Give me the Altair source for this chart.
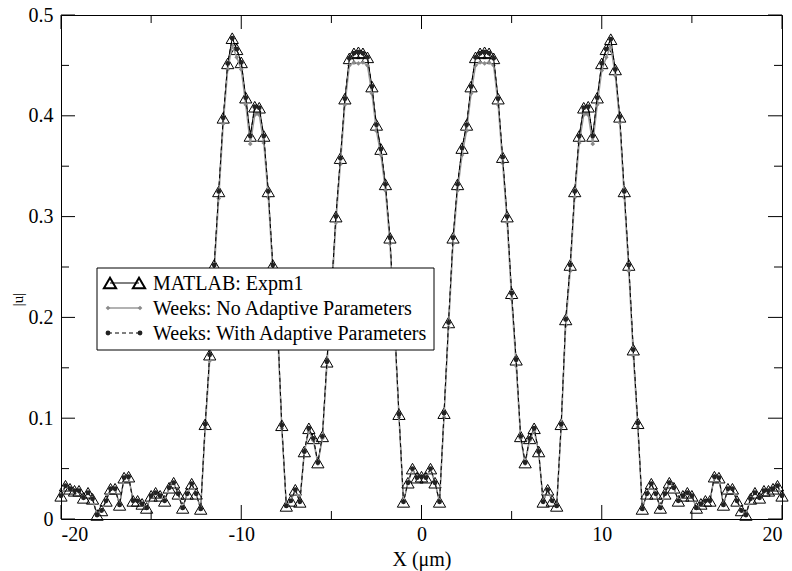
import altair as alt
import pandas as pd

# ---------------- data ----------------
x_values = [i * 0.25 for i in range(-80, 81)]  # sampling grid -20 .. 20, step 0.25

matlab_expm1 = [
    # -20 .. -12.25
    0.023, 0.033, 0.030, 0.028, 0.028, 0.021, 0.026, 0.020,
    0.004, 0.0085, 0.018, 0.030, 0.030, 0.014, 0.041, 0.042,
    0.018, 0.018, 0.015, 0.011, 0.023, 0.026, 0.023, 0.018,
    0.031, 0.036, 0.025, 0.011, 0.025, 0.035, 0.025, 0.010,
    # -12 .. -8.25
    0.094, 0.163, 0.252, 0.325, 0.398, 0.452, 0.477, 0.466,
    0.453, 0.418, 0.380, 0.409, 0.408, 0.380, 0.325, 0.252,
    # -8 .. -5.25
    0.198, 0.093, 0.013, 0.018, 0.029, 0.017, 0.067, 0.090, 0.080, 0.056, 0.082, 0.156,
    # -5 .. -1.25
    0.225, 0.300, 0.358, 0.417, 0.457, 0.462, 0.463, 0.462,
    0.458, 0.429, 0.391, 0.367, 0.332, 0.279, 0.195, 0.104,
    # -1 .. 0
    0.017, 0.036, 0.050, 0.041, 0.042,
    # 0.25 .. 1
    0.041, 0.050, 0.036, 0.017,
    # 1.25 .. 5
    0.105, 0.195, 0.279, 0.332, 0.368, 0.391, 0.429, 0.458,
    0.462, 0.463, 0.462, 0.457, 0.417, 0.359, 0.300, 0.224,
    # 5.25 .. 8
    0.158, 0.082, 0.056, 0.080, 0.090, 0.067, 0.017, 0.029, 0.018, 0.013, 0.094, 0.198,
    # 8.25 .. 12
    0.252, 0.325, 0.380, 0.408, 0.409, 0.380, 0.418, 0.452,
    0.466, 0.476, 0.446, 0.399, 0.325, 0.252, 0.168, 0.095,
    # 12.25 .. 20
    0.010, 0.025, 0.035, 0.025, 0.011, 0.025, 0.036, 0.031,
    0.018, 0.023, 0.026, 0.023, 0.011, 0.015, 0.018, 0.018,
    0.042, 0.041, 0.014, 0.030, 0.030, 0.018, 0.0085, 0.004,
    0.020, 0.026, 0.021, 0.028, 0.028, 0.030, 0.033, 0.023,
]

weeks_no_adaptive = [
    # -20 .. -12.25
    0.023, 0.033, 0.030, 0.028, 0.028, 0.021, 0.026, 0.020,
    0.004, 0.0085, 0.018, 0.030, 0.030, 0.014, 0.041, 0.042,
    0.018, 0.018, 0.015, 0.011, 0.023, 0.026, 0.023, 0.018,
    0.031, 0.036, 0.025, 0.011, 0.025, 0.035, 0.025, 0.010,
    # -12 .. -8.25
    0.090, 0.157, 0.246, 0.318, 0.392, 0.446, 0.470, 0.458,
    0.446, 0.411, 0.372, 0.401, 0.401, 0.373, 0.319, 0.246,
    # -8 .. -5.25
    0.192, 0.090, 0.013, 0.018, 0.029, 0.017, 0.066, 0.088, 0.078, 0.055, 0.080, 0.151,
    # -5 .. -1.25
    0.219, 0.294, 0.352, 0.411, 0.450, 0.453, 0.452, 0.453,
    0.450, 0.422, 0.385, 0.361, 0.326, 0.273, 0.190, 0.101,
    # -1 .. 0
    0.017, 0.036, 0.049, 0.041, 0.042,
    # 0.25 .. 1
    0.041, 0.049, 0.036, 0.017,
    # 1.25 .. 5
    0.101, 0.190, 0.273, 0.326, 0.361, 0.385, 0.422, 0.450,
    0.453, 0.452, 0.453, 0.450, 0.411, 0.353, 0.294, 0.218,
    # 5.25 .. 8
    0.152, 0.080, 0.055, 0.078, 0.088, 0.066, 0.017, 0.029, 0.018, 0.013, 0.091, 0.192,
    # 8.25 .. 12
    0.246, 0.319, 0.373, 0.401, 0.401, 0.372, 0.411, 0.445,
    0.458, 0.469, 0.440, 0.393, 0.319, 0.246, 0.162, 0.091,
    # 12.25 .. 20
    0.010, 0.025, 0.035, 0.025, 0.011, 0.025, 0.036, 0.031,
    0.018, 0.023, 0.026, 0.023, 0.011, 0.015, 0.018, 0.018,
    0.042, 0.041, 0.014, 0.030, 0.030, 0.018, 0.0085, 0.004,
    0.020, 0.026, 0.021, 0.028, 0.028, 0.030, 0.033, 0.023,
]

# the adaptive-parameter run coincides with the MATLAB reference in the picture
weeks_with_adaptive = list(matlab_expm1)

series_names = [
    "MATLAB: Expm1",
    "Weeks: No Adaptive Parameters",
    "Weeks: With Adaptive Parameters",
]

x_major_ticks = [-20, -10, 0, 10, 20]
x_minor_ticks = [-15, -5, 5, 15]
y_major_ticks = [0, 0.1, 0.2, 0.3, 0.4, 0.5]
y_minor_ticks = [0.05, 0.15, 0.25, 0.35, 0.45]

x_title = "X (\u03bcm)"
y_title = "|u|"

# ---------------- chart ----------------
W, H = 721, 504
FONT = "Liberation Serif"
GRAY = "#999999"

df = pd.DataFrame({
    "x": x_values,
    "matlab": matlab_expm1,
    "no_adapt": weeks_no_adaptive,
    "with_adapt": weeks_with_adaptive,
})

xscale = alt.Scale(domain=[-20, 20], nice=False, zero=False)
yscale = alt.Scale(domain=[0, 0.5], nice=False, zero=False)

x_axis = alt.Axis(
    values=x_major_ticks, ticks=False, domain=False, grid=False,
    labelExpr="datum.value < 0 ? '-' + format(-datum.value, 'd') : format(datum.value, 'd')",
    labelFont=FONT, labelFontSize=20, labelColor="black", labelPadding=5,
    title=x_title, titleFont=FONT, titleFontSize=20, titleFontWeight="normal",
    titleColor="black", titlePadding=5,
)
y_axis = alt.Axis(
    values=y_major_ticks, ticks=False, domain=False, grid=False, format=".1~f",
    labelFont=FONT, labelFontSize=20, labelColor="black", labelPadding=8,
    title=y_title, titleFont=FONT, titleFontSize=15, titleFontWeight="normal",
    titleColor="black", titleX=-44, titleY=284, titleAngle=270,
    titleBaseline="middle", titleAlign="center",
)

X = alt.X("x:Q", scale=xscale, axis=x_axis)


def Y(field):
    return alt.Y(f"{field}:Q", scale=yscale, axis=y_axis)


base = alt.Chart(df)

matlab_line = base.mark_line(color="black", strokeWidth=1).encode(x=X, y=Y("matlab"))
matlab_pts = base.mark_point(shape="triangle-up", filled=False, color="black",
                             strokeWidth=1, size=150, opacity=1).encode(x=X, y=Y("matlab"))
no_line = base.mark_line(color=GRAY, strokeWidth=1.5).encode(x=X, y=Y("no_adapt"))
no_pts = base.mark_point(shape="diamond", filled=True, color="#8a8a8a",
                         size=22, opacity=1).encode(x=X, y=Y("no_adapt"))
with_line = base.mark_line(color="black", strokeWidth=1, strokeDash=[4, 3]).encode(
    x=X, y=Y("with_adapt"))
with_pts = base.mark_point(shape="circle", filled=True, color="#222222",
                           size=24, opacity=1).encode(x=X, y=Y("with_adapt"))

# inward ticks on all four sides
xmaj = alt.Chart(pd.DataFrame({"t": x_major_ticks}))
xmin = alt.Chart(pd.DataFrame({"t": x_minor_ticks}))
ymaj = alt.Chart(pd.DataFrame({"t": y_major_ticks}))
ymin = alt.Chart(pd.DataFrame({"t": y_minor_ticks}))
TX = alt.X("t:Q", scale=xscale, axis=x_axis)
TY = alt.Y("t:Q", scale=yscale, axis=y_axis)
MAJ, MIN = 14, 8
tick_layers = [
    xmaj.mark_rule(color="black").encode(x=TX, y=alt.value(H), y2=alt.value(H - MAJ)),
    xmaj.mark_rule(color="black").encode(x=TX, y=alt.value(0), y2=alt.value(MAJ)),
    xmin.mark_rule(color="black").encode(x=TX, y=alt.value(H), y2=alt.value(H - MIN)),
    xmin.mark_rule(color="black").encode(x=TX, y=alt.value(0), y2=alt.value(MIN)),
    ymaj.mark_rule(color="black").encode(y=TY, x=alt.value(0), x2=alt.value(MAJ)),
    ymaj.mark_rule(color="black").encode(y=TY, x=alt.value(W), x2=alt.value(W - MAJ)),
    ymin.mark_rule(color="black").encode(y=TY, x=alt.value(0), x2=alt.value(MIN)),
    ymin.mark_rule(color="black").encode(y=TY, x=alt.value(W), x2=alt.value(W - MIN)),
]

# legend box (drawn in pixel space of the plot area)
one = alt.Chart(alt.Data(values=[{}]))
LX0, LX1, LY0, LY1 = 36, 373, 253, 335
rows = [268, 293, 318]
SX0, SX1, TXT = 49, 78, 92
legend_layers = [
    one.mark_rect(fill="white", stroke="black", strokeWidth=1).encode(
        x=alt.value(LX0), x2=alt.value(LX1), y=alt.value(LY0), y2=alt.value(LY1)),
    # row 1: MATLAB
    one.mark_rule(color="black", strokeWidth=1).encode(
        x=alt.value(SX0), x2=alt.value(SX1), y=alt.value(rows[0])),
    one.mark_point(shape="triangle-up", filled=False, color="black", size=150, opacity=1).encode(
        x=alt.value(SX0), y=alt.value(rows[0])),
    one.mark_point(shape="triangle-up", filled=False, color="black", size=150, opacity=1).encode(
        x=alt.value(SX1), y=alt.value(rows[0])),
    # row 2: no adaptive
    one.mark_rule(color=GRAY, strokeWidth=1.5).encode(
        x=alt.value(SX0 - 2), x2=alt.value(SX1 + 1), y=alt.value(rows[1])),
    one.mark_point(shape="diamond", filled=True, color="#8a8a8a", size=22, opacity=1).encode(
        x=alt.value(SX0 - 2), y=alt.value(rows[1])),
    one.mark_point(shape="diamond", filled=True, color="#8a8a8a", size=22, opacity=1).encode(
        x=alt.value(SX1 + 1), y=alt.value(rows[1])),
    # row 3: with adaptive
    one.mark_rule(color="black", strokeWidth=1, strokeDash=[4, 3]).encode(
        x=alt.value(SX0 - 2), x2=alt.value(SX1 + 1), y=alt.value(rows[2])),
    one.mark_point(shape="circle", filled=True, color="#222222", size=24, opacity=1).encode(
        x=alt.value(SX0 - 2), y=alt.value(rows[2])),
    one.mark_point(shape="circle", filled=True, color="#222222", size=24, opacity=1).encode(
        x=alt.value(SX1 + 1), y=alt.value(rows[2])),
]
for name, ry in zip(series_names, rows):
    legend_layers.append(
        one.mark_text(align="left", baseline="middle", font=FONT, fontSize=20,
                      color="black", text=name).encode(x=alt.value(TXT), y=alt.value(ry + 1))
    )

chart = alt.layer(
    matlab_line, matlab_pts, no_line, no_pts, with_line, with_pts,
    *tick_layers, *legend_layers,
).properties(
    width=W, height=H,
    background="white",
    padding={"left": 61, "top": 15, "right": 10, "bottom": 52},
    autosize=alt.AutoSizeParams(type="none"),
).configure_view(
    stroke="black", strokeWidth=1, fill="white",
)

chart.save("out.html", embed_options={"renderer": "svg", "actions": False})
